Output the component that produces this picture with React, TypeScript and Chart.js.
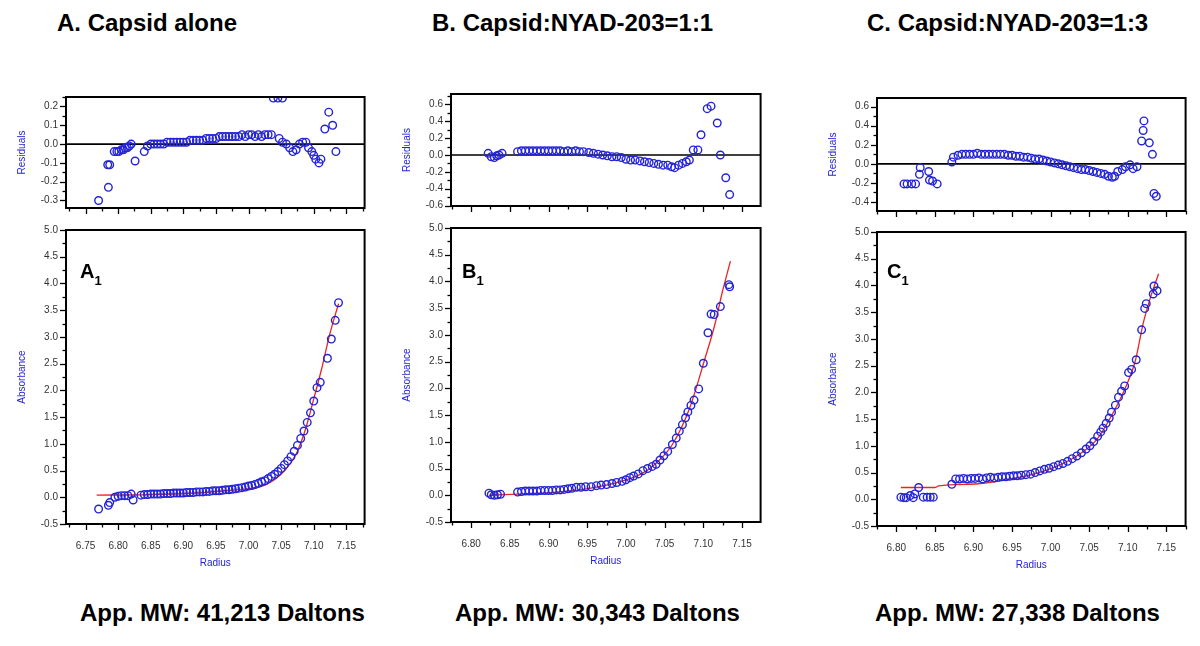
import React, { useEffect, useRef } from "react";
import { Chart, registerables } from "chart.js";

Chart.register(...registerables);

// ---------- tick labels ----------
const X_TICKS_A = [6.75, 6.8, 6.85, 6.9, 6.95, 7.0, 7.05, 7.1, 7.15];
const X_TICKS_BC = [6.8, 6.85, 6.9, 6.95, 7.0, 7.05, 7.1, 7.15];
const ABS_TICKS = [-0.5, 0.0, 0.5, 1.0, 1.5, 2.0, 2.5, 3.0, 3.5, 4.0, 4.5, 5.0];
const RES_TICKS_A = [-0.3, -0.2, -0.1, 0.0, 0.1, 0.2];
const RES_TICKS_B = [-0.6, -0.4, -0.2, 0.0, 0.2, 0.4, 0.6];
const RES_TICKS_C = [-0.4, -0.2, 0.0, 0.2, 0.4, 0.6];

// ---------- Panel A ----------
const A_RES_R = [6.770, 6.785, 6.784, 6.787, 6.794, 6.798, 6.801, 6.805, 6.808, 6.811, 6.814, 6.817, 6.820, 6.826, 6.840, 6.845, 6.850, 6.855, 6.860, 6.865, 6.870, 6.875, 6.880, 6.885, 6.890, 6.895, 6.900, 6.905, 6.910, 6.915, 6.920, 6.925, 6.930, 6.935, 6.940, 6.945, 6.950, 6.955, 6.960, 6.965, 6.970, 6.975, 6.980, 6.985, 6.990, 6.995, 7.000, 7.005, 7.010, 7.015, 7.020, 7.025, 7.030, 7.035, 7.038, 7.045, 7.052, 7.047, 7.052, 7.058, 7.063, 7.068, 7.073, 7.078, 7.083, 7.088, 7.092, 7.097, 7.100, 7.103, 7.108, 7.111, 7.117, 7.123, 7.129, 7.134];
const A_RES_V = [-0.30, -0.23, -0.11, -0.11, -0.04, -0.04, -0.04, -0.03, -0.03, -0.02, -0.02, -0.01, 0.00, -0.09, -0.04, -0.01, 0.00, 0.00, 0.00, 0.00, 0.00, 0.01, 0.01, 0.01, 0.01, 0.01, 0.01, 0.01, 0.02, 0.02, 0.02, 0.02, 0.02, 0.03, 0.03, 0.03, 0.03, 0.04, 0.04, 0.04, 0.04, 0.04, 0.04, 0.04, 0.05, 0.04, 0.05, 0.05, 0.04, 0.05, 0.04, 0.05, 0.05, 0.05, 0.245, 0.245, 0.245, 0.03, 0.01, 0.00, -0.02, -0.04, -0.03, 0.00, 0.01, 0.01, -0.02, -0.04, -0.06, -0.08, -0.10, -0.08, 0.08, 0.17, 0.10, -0.04];

const A_ABS_R = [6.770, 6.785, 6.787, 6.795, 6.800, 6.805, 6.810, 6.815, 6.820, 6.823, 6.835, 6.840, 6.845, 6.850, 6.855, 6.860, 6.865, 6.870, 6.875, 6.880, 6.885, 6.890, 6.895, 6.900, 6.905, 6.910, 6.915, 6.920, 6.925, 6.930, 6.935, 6.940, 6.945, 6.950, 6.955, 6.960, 6.965, 6.970, 6.975, 6.980, 6.985, 6.990, 6.995, 7.000, 7.005, 7.010, 7.015, 7.020, 7.025, 7.030, 7.035, 7.040, 7.045, 7.050, 7.055, 7.060, 7.065, 7.070, 7.075, 7.080, 7.085, 7.090, 7.095, 7.100, 7.105, 7.110, 7.121, 7.127, 7.133, 7.138];
const A_ABS_V = [-0.22, -0.15, -0.10, 0.00, 0.02, 0.03, 0.03, 0.03, 0.06, -0.05, 0.04, 0.05, 0.05, 0.06, 0.06, 0.06, 0.06, 0.07, 0.07, 0.07, 0.08, 0.08, 0.08, 0.08, 0.09, 0.09, 0.09, 0.10, 0.10, 0.10, 0.11, 0.11, 0.12, 0.12, 0.12, 0.13, 0.14, 0.14, 0.15, 0.16, 0.17, 0.18, 0.19, 0.21, 0.22, 0.24, 0.26, 0.29, 0.31, 0.35, 0.39, 0.43, 0.48, 0.54, 0.61, 0.68, 0.76, 0.86, 0.97, 1.10, 1.24, 1.40, 1.58, 1.80, 2.05, 2.15, 2.60, 2.96, 3.31, 3.64];

const A_FIT_R = [6.767, 6.85, 6.92, 6.974, 7.0, 7.024, 7.049, 7.065, 7.075, 7.088, 7.1, 7.112, 7.125, 7.138];
const A_FIT_V = [0.04, 0.05, 0.08, 0.13, 0.16, 0.22, 0.42, 0.65, 0.86, 1.3, 1.84, 2.4, 3.07, 3.62];

// ---------- Panel B ----------
const B_RES_R = [6.822, 6.826, 6.830, 6.833, 6.836, 6.840, 6.860, 6.865, 6.870, 6.875, 6.880, 6.885, 6.890, 6.895, 6.900, 6.905, 6.910, 6.915, 6.920, 6.925, 6.930, 6.935, 6.940, 6.945, 6.952, 6.958, 6.964, 6.970, 6.976, 6.982, 6.988, 6.994, 7.000, 7.006, 7.012, 7.018, 7.024, 7.030, 7.036, 7.042, 7.048, 7.054, 7.059, 7.063, 7.068, 7.073, 7.078, 7.082, 7.087, 7.093, 7.097, 7.105, 7.110, 7.118, 7.122, 7.129, 7.134];
const B_RES_V = [0.02, -0.02, -0.03, -0.01, 0.00, 0.02, 0.04, 0.05, 0.05, 0.05, 0.05, 0.05, 0.05, 0.05, 0.05, 0.05, 0.05, 0.05, 0.04, 0.05, 0.04, 0.05, 0.04, 0.04, 0.03, 0.02, 0.01, 0.00, -0.01, -0.02, -0.02, -0.03, -0.05, -0.06, -0.06, -0.07, -0.08, -0.09, -0.10, -0.11, -0.12, -0.12, -0.14, -0.15, -0.12, -0.10, -0.08, -0.06, 0.06, 0.06, 0.24, 0.55, 0.58, 0.38, 0.00, -0.27, -0.47];

const B_ABS_R = [6.823, 6.826, 6.830, 6.834, 6.838, 6.860, 6.865, 6.870, 6.875, 6.880, 6.885, 6.890, 6.895, 6.900, 6.905, 6.910, 6.915, 6.920, 6.925, 6.930, 6.936, 6.942, 6.948, 6.955, 6.962, 6.968, 6.975, 6.982, 6.988, 6.995, 7.000, 7.005, 7.010, 7.016, 7.022, 7.028, 7.034, 7.039, 7.044, 7.049, 7.054, 7.060, 7.065, 7.069, 7.073, 7.077, 7.080, 7.084, 7.088, 7.094, 7.100, 7.106, 7.110, 7.114, 7.122, 7.133, 7.134];
const B_ABS_V = [0.04, 0.01, 0.00, 0.01, 0.02, 0.06, 0.07, 0.08, 0.08, 0.08, 0.08, 0.09, 0.09, 0.09, 0.09, 0.10, 0.10, 0.11, 0.12, 0.13, 0.15, 0.15, 0.16, 0.16, 0.18, 0.19, 0.20, 0.22, 0.24, 0.26, 0.29, 0.33, 0.36, 0.40, 0.46, 0.50, 0.54, 0.58, 0.66, 0.74, 0.82, 0.95, 1.07, 1.20, 1.32, 1.45, 1.56, 1.68, 1.78, 1.99, 2.47, 3.04, 3.39, 3.38, 3.53, 3.94, 3.90];

const B_FIT_R = [6.823, 6.86, 6.911, 6.953, 6.996, 7.02, 7.039, 7.06, 7.082, 7.103, 7.115, 7.124, 7.135];
const B_FIT_V = [0.0, 0.02, 0.06, 0.13, 0.27, 0.4, 0.6, 0.95, 1.62, 2.6, 3.2, 3.77, 4.38];

// ---------- Panel C ----------
const C_RES_R = [6.810, 6.814, 6.820, 6.825, 6.830, 6.831, 6.842, 6.843, 6.847, 6.853, 6.872, 6.874, 6.880, 6.885, 6.890, 6.895, 6.900, 6.905, 6.910, 6.915, 6.920, 6.925, 6.930, 6.935, 6.940, 6.945, 6.950, 6.955, 6.960, 6.965, 6.970, 6.975, 6.980, 6.985, 6.990, 6.995, 7.000, 7.005, 7.010, 7.015, 7.020, 7.025, 7.030, 7.035, 7.040, 7.045, 7.050, 7.055, 7.060, 7.065, 7.070, 7.075, 7.080, 7.083, 7.087, 7.093, 7.097, 7.103, 7.107, 7.112, 7.118, 7.120, 7.121, 7.128, 7.132, 7.134, 7.137];
const C_RES_V = [-0.21, -0.21, -0.21, -0.21, -0.11, -0.04, -0.08, -0.17, -0.18, -0.21, 0.02, 0.07, 0.09, 0.10, 0.10, 0.10, 0.10, 0.11, 0.10, 0.10, 0.10, 0.10, 0.10, 0.10, 0.10, 0.09, 0.09, 0.08, 0.08, 0.07, 0.07, 0.06, 0.05, 0.05, 0.04, 0.03, 0.02, 0.01, 0.00, -0.01, -0.02, -0.03, -0.04, -0.05, -0.06, -0.06, -0.07, -0.08, -0.09, -0.10, -0.11, -0.13, -0.14, -0.13, -0.08, -0.06, -0.03, -0.01, -0.05, -0.03, 0.24, 0.35, 0.45, 0.22, 0.10, -0.31, -0.34];

const C_ABS_R = [6.806, 6.810, 6.813, 6.818, 6.822, 6.824, 6.829, 6.835, 6.840, 6.844, 6.848, 6.872, 6.877, 6.882, 6.887, 6.892, 6.897, 6.902, 6.907, 6.912, 6.917, 6.922, 6.927, 6.932, 6.937, 6.942, 6.947, 6.952, 6.957, 6.962, 6.968, 6.974, 6.980, 6.986, 6.992, 6.998, 7.004, 7.010, 7.016, 7.022, 7.028, 7.034, 7.040, 7.046, 7.051, 7.056, 7.061, 7.065, 7.068, 7.072, 7.076, 7.079, 7.084, 7.088, 7.092, 7.096, 7.101, 7.105, 7.111, 7.118, 7.122, 7.124, 7.133, 7.134, 7.138];
const C_ABS_V = [0.04, 0.03, 0.03, 0.07, 0.03, 0.10, 0.22, 0.04, 0.04, 0.04, 0.04, 0.28, 0.38, 0.38, 0.39, 0.38, 0.39, 0.39, 0.40, 0.38, 0.40, 0.41, 0.40, 0.41, 0.42, 0.42, 0.43, 0.44, 0.44, 0.45, 0.46, 0.47, 0.50, 0.53, 0.56, 0.58, 0.61, 0.64, 0.67, 0.71, 0.76, 0.81, 0.87, 0.94, 1.00, 1.08, 1.18, 1.26, 1.33, 1.42, 1.52, 1.63, 1.76, 1.91, 2.02, 2.12, 2.37, 2.43, 2.61, 3.17, 3.57, 3.66, 3.84, 3.99, 3.90];

const C_FIT_R = [6.806, 6.85, 6.855, 6.906, 6.949, 6.992, 7.034, 7.06, 7.077, 7.098, 7.11, 7.12, 7.13, 7.14];
const C_FIT_V = [0.22, 0.22, 0.25, 0.29, 0.38, 0.53, 0.81, 1.12, 1.51, 2.12, 2.6, 3.29, 3.8, 4.22];

// ---------- styling ----------
const BLUE = "rgb(35,35,215)";
const RED = "rgb(235,35,35)";
const TICK_FONT = { family: "'Liberation Sans Narrow', 'Liberation Sans', Arial, sans-serif", size: 10 };
const TITLE_FONT = { family: "'Liberation Sans Narrow', 'Liberation Sans', Arial, sans-serif", size: 10 };

const zip = (xs: number[], ys: number[]) => xs.map((x, i) => ({ x, y: ys[i] }));

const framePlugin = {
  id: "frame",
  beforeDatasetsDraw(chart: any, _a: any, opts: any) {
    if (!opts || !opts.zero) return;
    const { ctx, chartArea: a, scales } = chart;
    const y0 = scales.y.getPixelForValue(0);
    ctx.save();
    ctx.strokeStyle = "#000";
    ctx.lineWidth = 1.6;
    ctx.beginPath();
    ctx.moveTo(a.left, y0);
    ctx.lineTo(a.right, y0);
    ctx.stroke();
    ctx.restore();
  },
  afterDatasetsDraw(chart: any, _a: any, opts: any) {
    const { ctx, chartArea: a, scales } = chart;
    const xs = scales.x;
    const ys = scales.y;
    ctx.save();
    ctx.strokeStyle = "#000";
    ctx.lineWidth = 2;
    ctx.strokeRect(a.left, a.top, a.right - a.left, a.bottom - a.top);
    ctx.lineWidth = 1.3;
    const tickSet = (majors: number[], step: number, lo: number, hi: number) => {
      const out: { v: number; major: boolean }[] = [];
      majors.forEach((m) => out.push({ v: m, major: true }));
      for (let i = -4; i <= majors.length * 4; i++) {
        const v = majors[0] + i * step;
        if (v < lo - 1e-9 || v > hi + 1e-9) continue;
        if (majors.some((m) => Math.abs(m - v) < step / 4)) continue;
        out.push({ v, major: false });
      }
      return out;
    };
    tickSet(opts.xMajors, opts.xMinor, xs.min, xs.max).forEach((t) => {
      const px = Math.round(xs.getPixelForValue(t.v)) + 0.5;
      const len = t.major ? 6 : 3.5;
      ctx.beginPath();
      ctx.moveTo(px, a.bottom);
      ctx.lineTo(px, a.bottom + len);
      ctx.stroke();
    });
    tickSet(opts.yMajors, opts.yMinor, ys.min, ys.max).forEach((t) => {
      const py = Math.round(ys.getPixelForValue(t.v)) + 0.5;
      const len = t.major ? 6 : 3.5;
      ctx.beginPath();
      ctx.moveTo(a.left - len, py);
      ctx.lineTo(a.left, py);
      ctx.stroke();
    });
    ctx.restore();
  },
};

type PlotProps = {
  L: number; T: number; R: number; B: number;
  xMin: number; xMax: number; yMin: number; yMax: number;
  xTicks: number[]; yTicks: number[]; xMinor: number; yMinor: number;
  ptsR: number[]; ptsV: number[]; fitR?: number[]; fitV?: number[];
  residual: boolean; yTitle: string; clipTop?: boolean;
};

function Plot(p: PlotProps) {
  const ref = useRef<HTMLCanvasElement | null>(null);
  const xH = p.residual ? 8 : 47;
  const yW = 50;
  const width = p.R - p.L + yW + 4;
  const height = p.B - p.T + 4 + xH;

  useEffect(() => {
    if (!ref.current) return;
    const datasets: any[] = [
      {
        data: zip(p.ptsR, p.ptsV),
        showLine: false,
        pointRadius: 3.8,
        pointBorderWidth: 1.4,
        pointBorderColor: BLUE,
        pointBackgroundColor: "rgba(0,0,0,0)",
        borderColor: BLUE,
        clip: p.clipTop ? { left: 6, right: 6, top: 0, bottom: 6 } : 6,
      },
    ];
    if (p.fitR && p.fitV) {
      datasets.push({
        data: zip(p.fitR, p.fitV),
        showLine: true,
        pointRadius: 0,
        borderColor: RED,
        borderWidth: 1.3,
        cubicInterpolationMode: "monotone",
        fill: false,
      });
    }
    const chart = new Chart(ref.current, {
      type: "scatter",
      data: { datasets },
      options: {
        responsive: false,
        animation: false,
        events: [],
        layout: { padding: { left: 0, top: 4, right: 4, bottom: 0 } },
        plugins: {
          legend: { display: false },
          tooltip: { enabled: false },
          frame: {
            zero: p.residual,
            xMajors: p.xTicks,
            yMajors: p.yTicks,
            xMinor: p.xMinor,
            yMinor: p.yMinor,
          },
        } as any,
        scales: {
          x: {
            type: "linear",
            min: p.xMin,
            max: p.xMax,
            grid: { display: false, drawTicks: true, tickLength: 5 },
            border: { display: false },
            ticks: {
              display: !p.residual,
              padding: 11,
              autoSkip: false,
              maxRotation: 0,
              color: "#333",
              font: TICK_FONT,
              callback: (v: any) => Number(v).toFixed(2),
            },
            afterBuildTicks: (s: any) => {
              s.ticks = p.xTicks.map((v) => ({ value: v }));
            },
            afterFit: (s: any) => {
              s.height = xH;
            },
            title: {
              display: !p.residual,
              text: "Radius",
              color: BLUE,
              font: TITLE_FONT,
              padding: { top: 0, bottom: 2 },
            },
          },
          y: {
            type: "linear",
            min: p.yMin,
            max: p.yMax,
            grid: { display: false, drawTicks: true, tickLength: 5 },
            border: { display: false },
            ticks: {
              padding: 3,
              autoSkip: false,
              color: "#333",
              font: TICK_FONT,
              callback: (v: any) => Number(v).toFixed(1),
            },
            afterBuildTicks: (s: any) => {
              s.ticks = p.yTicks.map((v) => ({ value: v }));
            },
            afterFit: (s: any) => {
              s.width = yW;
            },
            title: {
              display: true,
              text: p.yTitle,
              color: BLUE,
              font: TITLE_FONT,
              padding: { top: 0, bottom: 0 },
            },
          },
        },
      } as any,
      plugins: [framePlugin as any],
    });
    return () => chart.destroy();
  }, []);

  return (
    <canvas
      ref={ref}
      width={width}
      height={height}
      style={{ position: "absolute", left: p.L - yW, top: p.T - 4, width, height }}
    />
  );
}

const HEAD_FONT = "bold 24px 'Liberation Sans', Arial, sans-serif";

function Text({ left, top, children }: { left: number; top: number; children: any }) {
  return (
    <div style={{ position: "absolute", left, top, font: HEAD_FONT, lineHeight: 1, whiteSpace: "nowrap", color: "#000" }}>
      {children}
    </div>
  );
}

function Sub({ left, top, letter }: { left: number; top: number; letter: string }) {
  return (
    <div style={{ position: "absolute", left, top, font: "bold 20px 'Liberation Sans', Arial, sans-serif", lineHeight: 1, color: "#000" }}>
      {letter}
      <span style={{ fontSize: 13, position: "relative", top: 7 }}>1</span>
    </div>
  );
}

export default function App() {
  return (
    <div style={{ position: "absolute", left: 0, top: 0, width: 1200, height: 646, background: "#fff", overflow: "hidden" }}>
      <Text left={57} top={11}>A. Capsid alone</Text>
      <Text left={432} top={11}>B. Capsid:NYAD-203=1:1</Text>
      <Text left={867} top={11}>C. Capsid:NYAD-203=1:3</Text>

      <Plot L={66} T={92} R={366} B={209} xMin={6.72} xMax={7.178} yMin={-0.34} yMax={0.2505}
        xTicks={X_TICKS_A} yTicks={RES_TICKS_A} xMinor={0.025} yMinor={0.05}
        ptsR={A_RES_R} ptsV={A_RES_V} residual={true} yTitle="Residuals" clipTop={true} />
      <Plot L={66} T={225} R={366} B={524} xMin={6.72} xMax={7.178} yMin={-0.5} yMax={5.0}
        xTicks={X_TICKS_A} yTicks={ABS_TICKS} xMinor={0.025} yMinor={0.25}
        ptsR={A_ABS_R} ptsV={A_ABS_V} fitR={A_FIT_R} fitV={A_FIT_V} residual={false} yTitle="Absorbance" />

      <Plot L={451} T={89} R={762} B={207} xMin={6.774} xMax={7.174} yMin={-0.605} yMax={0.724}
        xTicks={X_TICKS_BC} yTicks={RES_TICKS_B} xMinor={0.025} yMinor={0.1}
        ptsR={B_RES_R} ptsV={B_RES_V} residual={true} yTitle="Residuals" />
      <Plot L={451} T={223} R={762} B={522} xMin={6.774} xMax={7.174} yMin={-0.5} yMax={5.0}
        xTicks={X_TICKS_BC} yTicks={ABS_TICKS} xMinor={0.025} yMinor={0.25}
        ptsR={B_ABS_R} ptsV={B_ABS_V} fitR={B_FIT_R} fitV={B_FIT_V} residual={false} yTitle="Absorbance" />

      <Plot L={877} T={93} R={1187} B={212} xMin={6.775} xMax={7.175} yMin={-0.494} yMax={0.69}
        xTicks={X_TICKS_BC} yTicks={RES_TICKS_C} xMinor={0.025} yMinor={0.1}
        ptsR={C_RES_R} ptsV={C_RES_V} residual={true} yTitle="Residuals" />
      <Plot L={877} T={227} R={1187} B={526} xMin={6.775} xMax={7.175} yMin={-0.5} yMax={5.0}
        xTicks={X_TICKS_BC} yTicks={ABS_TICKS} xMinor={0.025} yMinor={0.25}
        ptsR={C_ABS_R} ptsV={C_ABS_V} fitR={C_FIT_R} fitV={C_FIT_V} residual={false} yTitle="Absorbance" />

      <Sub left={80} top={261} letter="A" />
      <Sub left={462} top={261} letter="B" />
      <Sub left={887} top={261} letter="C" />

      <Text left={80} top={601}>App. MW: 41,213 Daltons</Text>
      <Text left={455} top={601}>App. MW: 30,343 Daltons</Text>
      <Text left={875} top={601}>App. MW: 27,338 Daltons</Text>
    </div>
  );
}
